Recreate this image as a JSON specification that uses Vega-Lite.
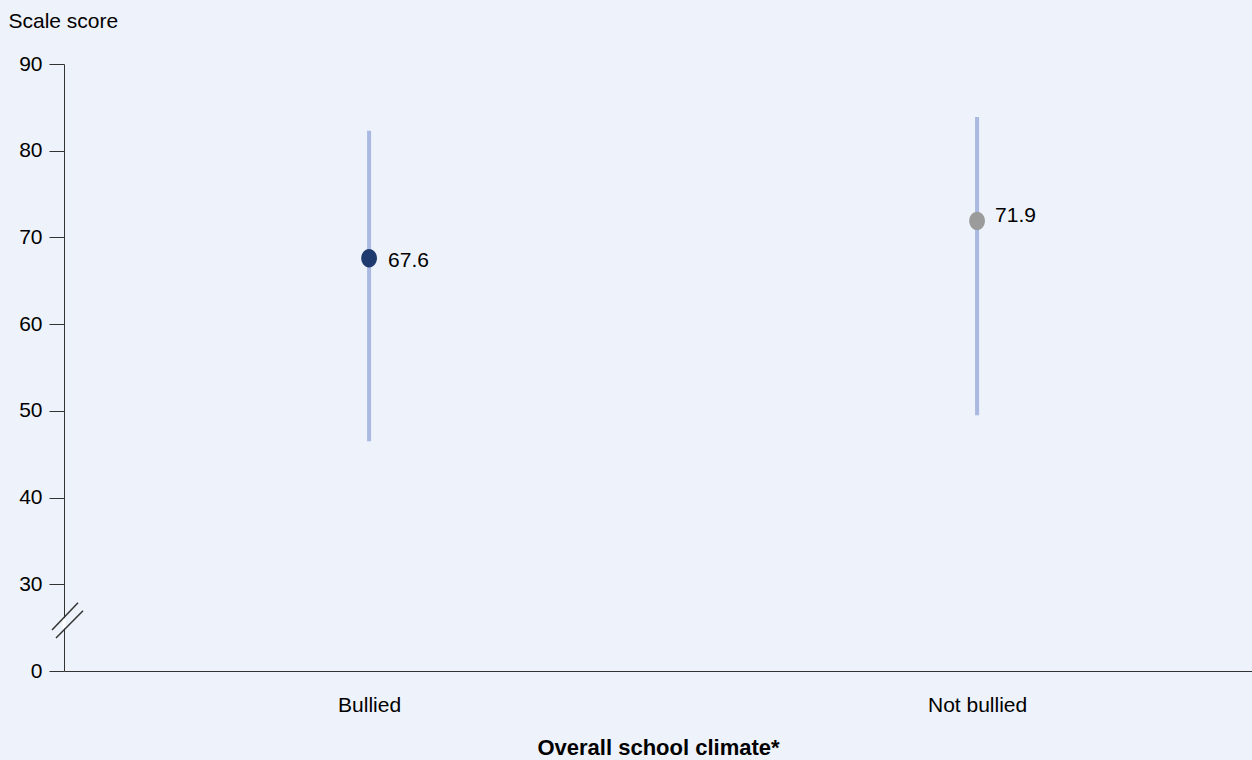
{
  "$schema": "https://vega.github.io/schema/vega-lite/v6.json",
  "width": 1188,
  "height": 607,
  "autosize": {"type": "none"},
  "padding": {"left": 64, "top": 64, "right": 0, "bottom": 89},
  "background": "#eef2fa",
  "config": {"view": {"stroke": null}, "font": "Liberation Sans"},
  "data": {
    "values": [
      {"group": "Bullied", "score": 67.6, "low": 46.5, "high": 82.3},
      {"group": "Not bullied", "score": 71.9, "low": 49.5, "high": 83.9}
    ]
  },
  "layer": [
    {
      "mark": {"type": "rule", "color": "#a9b9e2", "strokeWidth": 4, "strokeCap": "butt"},
      "encoding": {
        "x": {
          "field": "group",
          "type": "nominal",
          "sort": null,
          "scale": {"type": "point", "padding": 0.477, "align": 0.526},
          "axis": {
            "title": "Overall school climate*",
            "ticks": false,
            "labelAngle": 0,
            "labelPadding": 23,
            "labelFontSize": 21,
            "labelColor": "#000000",
            "domainColor": "#333333",
            "titleFontSize": 22,
            "titleFontWeight": "bold",
            "titleColor": "#000000",
            "titleBaseline": "alphabetic",
            "titleY": 83
          }
        },
        "y": {
          "field": "low",
          "type": "quantitative",
          "scale": {"domain": [20, 90], "nice": false, "zero": false},
          "axis": {
            "title": "Scale score",
            "values": [20, 30, 40, 50, 60, 70, 80, 90],
            "labelExpr": "datum.value == 20 ? '0' : datum.label",
            "grid": false,
            "tickSize": 15,
            "labelPadding": 7,
            "labelFontSize": 21,
            "labelColor": "#000000",
            "domainColor": "#333333",
            "tickColor": "#333333",
            "titleAngle": 0,
            "titleAlign": "left",
            "titleBaseline": "alphabetic",
            "titleX": -56,
            "titleY": -37,
            "titleFontSize": 21,
            "titleFontWeight": "normal",
            "titleColor": "#000000"
          }
        },
        "y2": {"field": "high"}
      }
    },
    {
      "mark": {
        "type": "point",
        "filled": true,
        "opacity": 1,
        "size": 335,
        "shape": "M -0.86 0 A 0.86 1 0 1 0 0.86 0 A 0.86 1 0 1 0 -0.86 0 Z"
      },
      "encoding": {
        "x": {"field": "group", "type": "nominal", "sort": null},
        "y": {"field": "score", "type": "quantitative"},
        "color": {
          "field": "group",
          "type": "nominal",
          "scale": {"domain": ["Bullied", "Not bullied"], "range": ["#1f3a6e", "#9b9b9b"]},
          "legend": null
        }
      }
    },
    {
      "transform": [{"filter": "datum.group == 'Bullied'"}],
      "mark": {"type": "text", "align": "left", "baseline": "middle", "dx": 19, "dy": 3, "fontSize": 21, "color": "#000000"},
      "encoding": {
        "x": {"field": "group", "type": "nominal", "sort": null},
        "y": {"field": "score", "type": "quantitative"},
        "text": {"field": "score", "type": "quantitative", "format": ".1f"}
      }
    },
    {
      "transform": [{"filter": "datum.group == 'Not bullied'"}],
      "mark": {"type": "text", "align": "left", "baseline": "middle", "dx": 18, "dy": -5, "fontSize": 21, "color": "#000000"},
      "encoding": {
        "x": {"field": "group", "type": "nominal", "sort": null},
        "y": {"field": "score", "type": "quantitative"},
        "text": {"field": "score", "type": "quantitative", "format": ".1f"}
      }
    },
    {
      "data": {"values": [{}]},
      "mark": {"type": "rule", "color": "#ffffff", "strokeWidth": 3},
      "encoding": {
        "x": {"value": 0},
        "y": {"datum": 24.9, "type": "quantitative"},
        "y2": {"datum": 26.1}
      }
    },
    {
      "data": {"values": [{}]},
      "mark": {"type": "rule", "color": "#333333", "strokeWidth": 1.5},
      "encoding": {
        "x": {"value": -12},
        "x2": {"value": 14},
        "y": {"datum": 24.73, "type": "quantitative"},
        "y2": {"datum": 27.88}
      }
    },
    {
      "data": {"values": [{}]},
      "mark": {"type": "rule", "color": "#333333", "strokeWidth": 1.5},
      "encoding": {
        "x": {"value": -8},
        "x2": {"value": 19},
        "y": {"datum": 23.8, "type": "quantitative"},
        "y2": {"datum": 26.95}
      }
    }
  ]
}
